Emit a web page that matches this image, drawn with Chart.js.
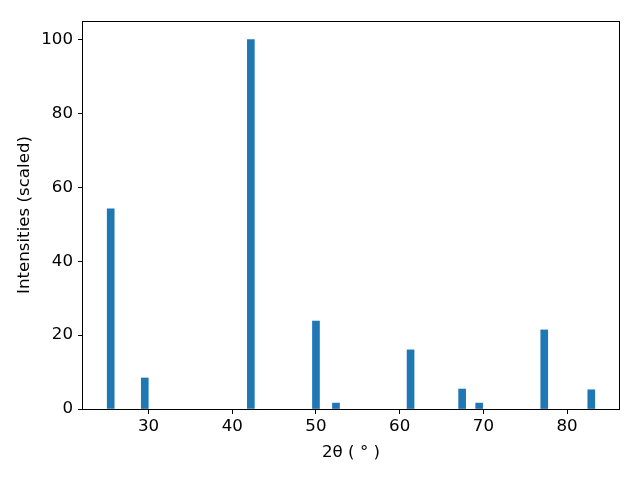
<!DOCTYPE html>
<html>
<head>
<meta charset="utf-8">
<script src="https://cdn.jsdelivr.net/npm/chart.js@4.4.1/dist/chart.umd.min.js"></script>
<style>
html,body{margin:0;padding:0;background:#fff;}
#wrap{width:640px;height:480px;position:relative;}
</style>
</head>
<body>
<div id="wrap"><canvas id="c" width="640" height="480"></canvas></div>
<script>
// Peak positions (2θ, degrees) and scaled intensities
const twoTheta = [25.48, 29.55, 42.22, 50.0, 52.39, 61.30, 67.46, 69.50, 77.27, 82.89];
const intensities = [54.2, 8.4, 100, 23.8, 1.6, 16.0, 5.4, 1.6, 21.4, 5.2];
const xTicks = [30, 40, 50, 60, 70, 80];
const yTicks = [0, 20, 40, 60, 80, 100];

const points = twoTheta.map((x, i) => ({x: x, y: intensities[i]}));

const frame = {
  id: 'frame',
  afterDraw(chart) {
    const a = chart.chartArea, ctx = chart.ctx;
    ctx.save();
    ctx.strokeStyle = '#000';
    ctx.lineWidth = 1;
    ctx.strokeRect(Math.round(a.left) - 0.5, Math.round(a.top) + 0.5, Math.round(a.right - a.left) + 1, Math.round(a.bottom - a.top));
    ctx.restore();
  }
};

const tickFont = {family: 'DejaVu Sans', size: 16.67};
new Chart(document.getElementById('c'), {
  type: 'bar',
  data: {
    datasets: [{
      data: points,
      backgroundColor: '#1f77b4',
      borderWidth: 0,
      barThickness: 7
    }]
  },
  options: {
    responsive: false,
    animation: false,
    devicePixelRatio: 1,
    layout: {padding: {left: 0, top: 21, right: 21, bottom: 0}},
    plugins: {legend: {display: false}, tooltip: {enabled: false}},
    scales: {
      x: {
        type: 'linear',
        min: 22.17,
        max: 86.2,
        offset: false,
        afterBuildTicks: s => { s.ticks = xTicks.map(v => ({value: v})); },
        afterFit: s => { s.height = 71; },
        grid: {display: true, drawOnChartArea: false, drawTicks: true, tickLength: 5, color: '#000', offset: false},
        border: {display: false},
        ticks: {color: '#000', font: tickFont, padding: 3, maxRotation: 0, autoSkip: false},
        title: {display: true, text: '2θ ( ° )', color: '#000', font: tickFont, padding: {top: 0, bottom: 17}}
      },
      y: {
        min: 0,
        max: 105,
        afterBuildTicks: s => { s.ticks = yTicks.map(v => ({value: v})); },
        afterFit: s => { s.width = 83; },
        grid: {display: true, drawOnChartArea: false, drawTicks: true, tickLength: 5, color: '#000'},
        border: {display: false},
        ticks: {color: '#000', font: tickFont, padding: 5, autoSkip: false},
        title: {display: true, text: 'Intensities (scaled)', color: '#000', font: tickFont, padding: {top: 15, bottom: 0}}
      }
    }
  },
  plugins: [frame]
});
</script>
</body>
</html>
